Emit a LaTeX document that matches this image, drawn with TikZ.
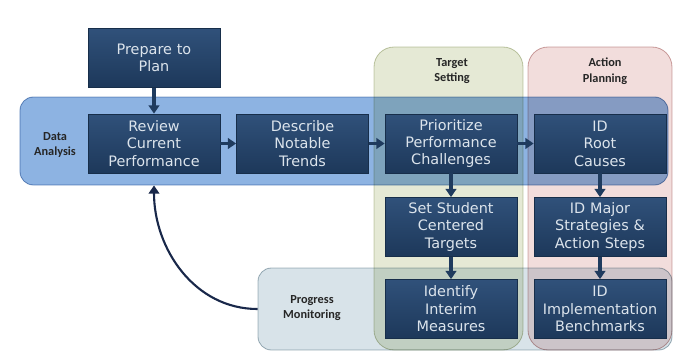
\documentclass[tikz,border=0pt]{standalone}
\usepackage{fontspec}
\setmainfont{DejaVu Sans}
\newfontfamily\phasefont{Carlito}
\usetikzlibrary{arrows.meta}

\definecolor{boxtop}{HTML}{30517A}
\definecolor{boxbot}{HTML}{1D385A}
\definecolor{boxedge}{HTML}{172E4A}
\definecolor{boxtext}{HTML}{DCE4EC}
\definecolor{arrowc}{HTML}{1F3B5E}
\definecolor{loopc}{HTML}{19284A}
\definecolor{dafill}{HTML}{8DB3E2}
\definecolor{dadraw}{HTML}{7C9CC4}
\definecolor{tsfill}{HTML}{E5E9D5}
\definecolor{tsdraw}{HTML}{C5CCAE}
\definecolor{apfill}{HTML}{F2DDDC}
\definecolor{apdraw}{HTML}{CFA8A8}
\definecolor{pmfill}{HTML}{D8E3E9}
\definecolor{pmdraw}{HTML}{A2B3BC}

\tikzset{
  task/.style={draw=boxedge, line width=0.6pt, top color=boxtop, bottom color=boxbot,
    text=boxtext, minimum width=3.96cm, minimum height=1.77cm, inner sep=0pt,
    text width=3.9cm, align=center, font=\fontsize{12.3}{14.9}\selectfont},
  band/.style={draw, line width=0.7pt, inner sep=0pt},
  tag/.style={font=\phasefont\bfseries\fontsize{10.5}{13.5}\selectfont, align=center, text=black!85},
  flow/.style={->, line width=2.6pt, draw=arrowc},
  >={Triangle[length=7pt,width=9pt]}
}

\begin{document}
\begin{tikzpicture}[x=0.3mm,y=0.3mm]
\useasboundingbox (0,0) rectangle (675,351);

% phase areas
\begin{scope}[blend mode=multiply]
\node[band, fill=tsfill, draw=tsdraw, rounded corners=0.6cm, minimum width=4.47cm, minimum height=9.09cm] (ts) at (448.5,152.5) {};
\node[band, fill=apfill, draw=apdraw, rounded corners=0.6cm, minimum width=4.32cm, minimum height=9.09cm] (ap) at (600,152.5) {};
\node[band, fill=dafill, draw=dadraw, rounded corners=0.4cm, minimum width=19.44cm, minimum height=2.64cm] (da) at (344,210) {};
\node[band, fill=pmfill, draw=pmdraw, rounded corners=0.4cm, minimum width=12.42cm, minimum height=2.46cm] (pm) at (465,42) {};
\end{scope}

\node[tag] (datag) at (55,206) {Data\\Analysis};
\node[tag] (tstag) at (452,280) {Target\\Setting};
\node[tag] (aptag) at (605,280) {Action\\Planning};
\node[tag] (pmtag) at (312,43) {Progress\\Monitoring};

% steps
\node[task] (prep) at (154,293) {Prepare to\\Plan};
\node[task] (review) at (154,207.5) {Review\\Current\\Performance};
\node[task] (describe) at (302.5,207.5) {Describe\\Notable\\Trends};
\node[task] (prioritize) at (451,207.5) {Prioritize\\Performance\\Challenges};
\node[task] (root) at (600,207.5) {ID\\Root\\Causes};
\node[task] (targets) at (451,124) {Set Student\\Centered\\Targets};
\node[task] (strategies) at (600,124) {ID Major\\Strategies \&\\Action Steps};
\node[task] (interim) at (451,42) {Identify\\Interim\\Measures};
\node[task] (benchmarks) at (600,42) {ID\\Implementation\\Benchmarks};

\draw[flow] (prep) -- (review);
\draw[flow] (review) -- (describe);
\draw[flow] (describe) -- (prioritize);
\draw[flow] (prioritize) -- (root);
\draw[flow] (prioritize) -- (targets);
\draw[flow] (targets) -- (interim);
\draw[flow] (root) -- (strategies);
\draw[flow] (strategies) -- (benchmarks);
\draw[flow, draw=loopc, line width=1.8pt] (pm.west) to[out=180, in=270] (review.south |- da.south);
\end{tikzpicture}
\end{document}
